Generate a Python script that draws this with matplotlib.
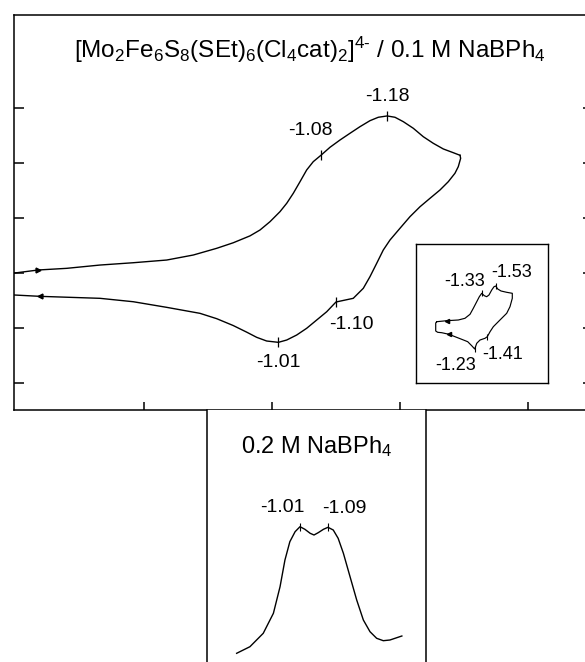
import matplotlib
matplotlib.use("Agg")
import matplotlib.pyplot as plt

plt.rcParams['font.family'] = ['Liberation Sans', 'DejaVu Sans']
plt.rcParams['mathtext.fontset'] = 'custom'
plt.rcParams['mathtext.rm'] = 'Liberation Sans'
plt.rcParams['mathtext.it'] = 'Liberation Sans'
plt.rcParams['mathtext.default'] = 'regular'

# ---- main cyclic voltammogram (E in V, current in arbitrary units) ----
cv_fwd_E = [-0.598, -0.6348, -0.6792, -0.7313, -0.7833, -0.8355, -0.877, -0.9136,
            -0.9395, -0.9656, -0.9813, -0.9969, -1.0125, -1.023, -1.0333, -1.0438,
            -1.0542, -1.0645, -1.077, -1.0906, -1.1063, -1.1219, -1.1375, -1.1531,
            -1.1661, -1.180, -1.1922, -1.2052, -1.2208, -1.2364, -1.252, -1.2677,
            -1.2833, -1.2938]
cv_fwd_I = [0.0, 0.055, 0.085, 0.145, 0.187, 0.236, 0.327, 0.449,
            0.55, 0.675, 0.782, 0.933, 1.115, 1.267, 1.449, 1.66,
            1.873, 2.024, 2.145, 2.285, 2.418, 2.54, 2.66, 2.769,
            2.831, 2.855, 2.831, 2.751, 2.631, 2.478, 2.358, 2.255,
            2.187, 2.14]
cv_rev_E = [-1.2938, -1.2948, -1.2911, -1.2859, -1.2755, -1.2625, -1.2469, -1.2313,
            -1.2156, -1.200, -1.1844, -1.1739, -1.1636, -1.1531, -1.1427, -1.127,
            -1.100, -1.0855, -1.0698, -1.0542, -1.0386, -1.023, -1.010, -0.9917,
            -0.9761, -0.9605, -0.9395, -0.9136, -0.8875, -0.8355, -0.7833,
            -0.7313, -0.6375, -0.598]
cv_rev_I = [2.14, 2.085, 1.933, 1.813, 1.66, 1.509, 1.358, 1.205,
            1.024, 0.813, 0.6, 0.418, 0.176, -0.067, -0.278, -0.46,
            -0.527, -0.704, -0.855, -1.005, -1.127, -1.218, -1.26, -1.236,
            -1.169, -1.075, -0.955, -0.83, -0.733, -0.624, -0.522,
            -0.46, -0.424, -0.40]
cv_peak_E = [-1.18, -1.077, -1.100, -1.010]
cv_peak_I = [2.855, 2.145, -0.527, -1.26]
cv_peak_labels = ['-1.18', '-1.08', '-1.10', '-1.01']
cv_label_offsets = [(0, 13.7), (-8, 18), (11, -16.5), (0, -14.4)]
cv_xticks = [-0.8, -1.0, -1.2, -1.4]
cv_yticks = [-2, -1, 0, 1, 2, 3]

# ---- inset CV ----
in_E = [-0.687, -0.83, -0.996, -1.091, -1.163, -1.21, -1.259, -1.296, -1.33,
        -1.367, -1.401, -1.434, -1.473, -1.506, -1.53, -1.559, -1.606, -1.687,
        -1.767, -1.767, -1.734, -1.687, -1.591, -1.496, -1.449, -1.41, -1.377,
        -1.306, -1.259, -1.23, -1.187, -1.13, -1.044, -0.949, -0.863, -0.759,
        -0.701, -0.673, -0.673, -0.687]
in_I = [0.83, 0.93, 1.0, 1.17, 1.57, 2.17, 2.83, 3.33, 3.67,
        3.43, 3.33, 3.5, 4.0, 4.33, 4.4, 4.1, 3.9, 3.77,
        3.67, 3.17, 2.33, 1.67, 1.0, 0.33, -0.17, -0.67, -0.83,
        -1.0, -1.33, -1.9, -1.57, -1.17, -0.93, -0.67, -0.43, -0.27,
        -0.23, -0.10, 0.70, 0.83]
in_peak_E = [-1.33, -1.53, -1.23, -1.41]
in_peak_I = [3.67, 4.4, -1.9, -0.67]
in_peak_labels = ['-1.33', '-1.53', '-1.23', '-1.41']
in_label_offsets = [(-12, 8.6), (11.5, 10), (-14, -12.2), (10.8, -13)]

# ---- lower panel (0.2 M NaBPh4) ----
lo_E = [-0.829, -0.867, -0.905, -0.934, -0.953, -0.967, -0.981, -0.996, -1.010,
        -1.024, -1.039, -1.050, -1.062, -1.077, -1.090, -1.105, -1.119, -1.134,
        -1.153, -1.172, -1.191, -1.210, -1.229, -1.248, -1.267, -1.301]
lo_I = [0.134, 0.266, 0.534, 0.934, 1.466, 2.0, 2.366, 2.566, 2.666,
        2.614, 2.534, 2.50, 2.546, 2.614, 2.654, 2.60, 2.434, 2.134,
        1.666, 1.20, 0.80, 0.566, 0.434, 0.386, 0.40, 0.48]
lo_peak_E = [-1.01, -1.09]
lo_peak_I = [2.666, 2.654]
lo_peak_labels = ['-1.01', '-1.09']
lo_label_offsets = [(-13, 13.7), (12, 13.7)]

title_main = r'[Mo$_2$Fe$_6$S$_8$(SEt)$_6$(Cl$_4$cat)$_2$]$^{4\text{-}}$ / 0.1 M NaBPh$_4$'
title_low = r'0.2 M NaBPh$_4$'

W, H = 585, 662
fig = plt.figure(figsize=(W / 100, H / 100), dpi=100)

def frac(l, t, r, b):
    return [l / W, 1 - b / H, (r - l) / W, (b - t) / H]

lw_spine = 1.1
lw_line = 1.0

# main axes
ax = fig.add_axes(frac(14, 15, 593, 410))
ax.plot(cv_fwd_E, cv_fwd_I, color='black', lw=lw_line)
ax.plot(cv_rev_E, cv_rev_I, color='black', lw=lw_line)
ax.plot([cv_fwd_E[1]], [cv_fwd_I[1]], marker='>', ms=3.5, color='black')
ax.plot([cv_rev_E[-2]], [cv_rev_I[-2]], marker='<', ms=3.5, color='black')
ax.plot(cv_peak_E, cv_peak_I, ls='none', marker='|', ms=7, mew=0.9, color='black')
for e, i, lab, off in zip(cv_peak_E, cv_peak_I, cv_peak_labels, cv_label_offsets):
    ax.annotate(lab, (e, i), xytext=off, textcoords='offset points',
                ha='center', va='center', fontsize=14)
ax.set_xlim(-0.5969, -1.5016)
ax.set_ylim(-2.49, 4.69)
ax.set_xticks(cv_xticks)
ax.set_yticks(cv_yticks)
ax.set_xticklabels([])
ax.set_yticklabels([])
ax.tick_params(axis='y', direction='in', length=7, width=lw_spine, left=True, right=True)
ax.tick_params(axis='x', direction='in', length=6, width=lw_spine, bottom=True, top=False)
for s in ax.spines.values():
    s.set_linewidth(lw_spine)
ax.text(0.511, 0.911, title_main, transform=ax.transAxes, ha='center', va='center',
        fontsize=17.5)

# inset
axi = fig.add_axes(frac(416, 244, 548, 383))
axi.plot(in_E, in_I, color='black', lw=0.85)
axi.plot([in_E[1]], [in_I[1]], marker='<', ms=3, color='black')
axi.plot([in_E[-6]], [in_I[-6]], marker='<', ms=3, color='black')
axi.plot(in_peak_E, in_peak_I, ls='none', marker='|', ms=5, mew=0.8, color='black')
for e, i, lab, off in zip(in_peak_E, in_peak_I, in_peak_labels, in_label_offsets):
    axi.annotate(lab, (e, i), xytext=off, textcoords='offset points',
                 ha='center', va='center', fontsize=13)
axi.set_xlim(-0.3914, -2.277)
axi.set_ylim(-5.3, 8.6)
axi.set_xticks([])
axi.set_yticks([])
for s in axi.spines.values():
    s.set_linewidth(1.0)

# lower panel
axl = fig.add_axes(frac(207, 410, 426, 662))
axl.plot(lo_E, lo_I, color='black', lw=lw_line)
axl.plot(lo_peak_E, lo_peak_I, ls='none', marker='|', ms=6, mew=0.8, color='black')
for e, i, lab, off in zip(lo_peak_E, lo_peak_I, lo_peak_labels, lo_label_offsets):
    axl.annotate(lab, (e, i), xytext=off, textcoords='offset points',
                 ha='center', va='center', fontsize=14)
axl.set_xlim(-0.7443, -1.37)
axl.set_ylim(-0.04, 5.0)
axl.set_xticks([])
axl.set_yticks([])
axl.spines['bottom'].set_visible(False)
axl.spines['top'].set_visible(False)
axl.spines['left'].set_linewidth(lw_spine)
axl.spines['right'].set_linewidth(lw_spine)
axl.text(0.502, 0.853, title_low, transform=axl.transAxes, ha='center', va='center',
         fontsize=17)

fig.savefig('out.png', dpi=100)
